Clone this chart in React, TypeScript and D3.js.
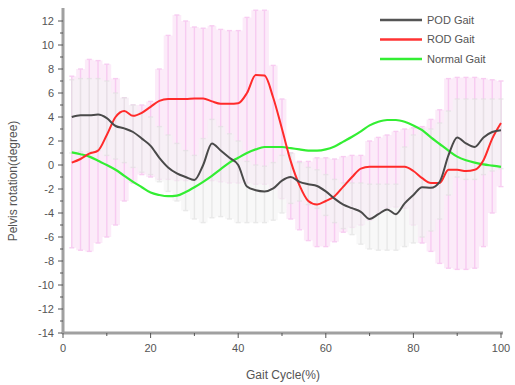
import React from 'react';
import * as d3 from 'd3';

// gait cycle sample points (%)
const cycle = d3.range(2, 101, 2);

const podMean = [4.0, 4.15, 4.15, 4.2, 3.9, 3.25, 3.05, 2.75, 2.2, 1.6, 0.6, -0.2, -0.7, -1.0, -1.25, 0.0, 1.8, 1.2, 0.6, 0.0,
  -1.8, -2.1, -2.2, -1.95, -1.3, -1.0, -1.4, -1.6, -1.75, -2.2, -2.8, -3.3, -3.6, -3.9, -4.5, -4.1, -3.7, -4.1, -3.2, -2.5,
  -1.85, -1.9, -1.4, 0.8, 2.3, 1.8, 1.5, 2.3, 2.75, 2.9];
const rodMean = [0.2, 0.5, 0.95, 1.2, 2.5, 4.0, 4.5, 4.1, 4.35, 4.85, 5.35, 5.5, 5.5, 5.5, 5.55, 5.55, 5.3, 5.1, 5.1, 5.15,
  6.0, 7.5, 7.45, 5.6, 3.0, 0.3, -1.7, -3.0, -3.3, -3.0, -2.6, -1.8, -1.0, -0.3, -0.15, -0.15, -0.15, -0.15, -0.15, -0.5,
  -1.1, -1.5, -1.5, -0.4, -0.4, -0.5, -0.4, 0.4, 2.2, 3.5];
const normalMean = [1.05, 0.9, 0.7, 0.35, 0.0, -0.4, -0.9, -1.4, -1.85, -2.3, -2.5, -2.6, -2.55, -2.25, -1.85, -1.4, -0.9, -0.35, 0.2, 0.6,
  1.0, 1.3, 1.5, 1.5, 1.5, 1.4, 1.3, 1.2, 1.2, 1.3, 1.55, 1.95, 2.35, 2.8, 3.3, 3.6, 3.75, 3.75, 3.6, 3.3,
  2.9, 2.3, 1.75, 1.2, 0.7, 0.4, 0.2, 0.05, -0.05, -0.15];

// error bar extents
const rodHigh = [7.4, 8.0, 8.8, 8.7, 8.4, 7.2, 5.6, 5.0, 5.0, 5.3, 8.0, 10.8, 12.5, 12.0, 11.5, 11.4, 11.6, 11.3, 11.2, 11.2,
  12.3, 12.9, 12.9, 8.3, 5.5, 1.0, 0.3, 0.3, 0.6, 0.6, 0.5, 0.7, 0.8, 0.8, 2.0, 2.3, 2.5, 2.8, 3.0, 3.1,
  3.2, 3.8, 4.6, 7.2, 7.3, 7.3, 7.3, 7.2, 7.1, 7.0];
const rodLow = [-6.9, -7.1, -7.2, -6.5, -6.0, -5.0, -3.0, -1.5, -0.8, -1.0, -1.2, -1.2, -1.3, -1.3, -1.3, -1.3, -1.3, -1.4, -1.5, -1.5,
  -1.5, -1.6, -1.6, -2.0, -2.8, -4.5, -5.4, -6.3, -6.8, -6.8, -6.4, -5.6, -5.2, -5.0, -4.6, -4.0, -3.6, -3.5, -3.6, -5.0,
  -6.5, -7.2, -8.2, -8.6, -8.7, -8.7, -8.6, -6.8, -4.0, -1.8];
const podHigh = [7.1, 7.2, 7.2, 7.2, 7.0, 6.0, 5.6, 5.0, 4.4, 4.0, 3.2, 2.5, 1.8, 1.2, 0.8, 2.2, 3.8, 3.2, 2.6, 2.0,
  0.3, 0.0, -0.1, 0.2, 0.8, 1.0, 0.2, -0.2, -0.4, -0.8, -1.2, -1.5, -1.5, -1.5, -1.6, -1.6, -1.6, -1.6, 1.5, 2.5,
  3.0, 3.0, 3.5, 4.5, 5.5, 5.5, 5.5, 5.5, 5.5, 5.5];
const podLow = [1.0, 1.1, 1.1, 1.2, 0.8, 0.5, 0.2, -0.2, -0.6, -0.8, -1.4, -2.2, -3.0, -3.8, -4.5, -4.8, -4.4, -4.3, -4.5, -4.8,
  -4.8, -4.8, -4.8, -4.6, -4.0, -3.2, -3.0, -3.3, -3.6, -4.2, -4.8, -5.3, -5.8, -6.6, -7.0, -7.1, -7.1, -7.1, -6.8, -6.5,
  -6.0, -5.5, -4.5, -2.5, -1.0, -1.2, -1.2, -0.8, -0.5, -0.3];

const xTicks = [0, 20, 40, 60, 80, 100];
const yTicks = [-14, -12, -10, -8, -6, -4, -2, 0, 2, 4, 6, 8, 10, 12];

const legend = [
  { label: 'POD Gait', color: '#555555' },
  { label: 'ROD Gait', color: '#ff3333' },
  { label: 'Normal Gait', color: '#33ee33' },
];

export default function App() {
  const x = d3.scaleLinear().domain([0, 100]).range([63, 501]);
  const y = d3.scaleLinear().domain([-14, 13]).range([333, 9]);

  const line = (vals: number[]) =>
    d3.line<number>().x((_, i) => x(cycle[i])).y(d => y(d)).curve(d3.curveMonotoneX)(vals) || '';
  const band = (lo: number[], hi: number[]) =>
    d3.area<number>().x((_, i) => x(cycle[i])).y0((_, i) => y(lo[i])).y1(d => y(d)).curve(d3.curveStep)(hi) || '';

  const bars = (lo: number[], hi: number[], color: string) =>
    cycle.map((c, i) => (
      <g key={i} stroke={color} strokeWidth={1.4}>
        <line x1={x(c)} x2={x(c)} y1={y(lo[i])} y2={y(hi[i])} />
        <line x1={x(c) - 2.5} x2={x(c) + 2.5} y1={y(hi[i])} y2={y(hi[i])} />
        <line x1={x(c) - 2.5} x2={x(c) + 2.5} y1={y(lo[i])} y2={y(lo[i])} />
      </g>
    ));

  const font = '"Liberation Sans", Arial, sans-serif';
  const axisColor = '#a0a0a0';
  const textColor = '#555';

  return (
    <svg width={515} height={385} style={{ position: 'absolute', left: 0, top: 0, background: '#fff' }} fontFamily={font}>
      {/* ROD band */}
      <path d={band(rodLow, rodHigh)} fill="#fbe6f8" opacity={0.8} />
      <g opacity={0.85}>{bars(rodLow, rodHigh, '#f7c6f0')}</g>
      {/* POD band, drawn over the ROD one */}
      <path d={band(podLow, podHigh)} fill="#f3f3f3" opacity={0.6} />
      <g opacity={0.6}>{bars(podLow, podHigh, '#dedede')}</g>

      <path d={line(normalMean)} fill="none" stroke="#33ee33" strokeWidth={2.2} />
      <path d={line(rodMean)} fill="none" stroke="#ff2b2b" strokeWidth={2} />
      <path d={line(podMean)} fill="none" stroke="#4a4a4a" strokeWidth={2} />

      {/* y axis */}
      <line x1={63} x2={63} y1={8} y2={334} stroke={axisColor} strokeWidth={3} />
      {d3.range(-13, 13, 2).map(v => (
        <line key={'ym' + v} x1={60} x2={63} y1={y(v)} y2={y(v)} stroke={textColor} strokeWidth={1} />
      ))}
      {yTicks.map(v => (
        <g key={'y' + v}>
          <line x1={58} x2={63} y1={y(v)} y2={y(v)} stroke={textColor} strokeWidth={1} />
          <text x={54} y={y(v)} dy="0.35em" textAnchor="end" fontSize={11} fill={textColor}>{v}</text>
        </g>
      ))}

      {/* x axis */}
      <line x1={62} x2={503} y1={333} y2={333} stroke={axisColor} strokeWidth={3} />
      {[10, 30, 50, 70, 90].map(v => (
        <line key={'xm' + v} x1={x(v)} x2={x(v)} y1={333} y2={336} stroke={textColor} strokeWidth={1} />
      ))}
      {xTicks.map(v => (
        <g key={'x' + v}>
          <line x1={x(v)} x2={x(v)} y1={333} y2={338} stroke={textColor} strokeWidth={1} />
          <text x={x(v)} y={352} textAnchor="middle" fontSize={11} fill={textColor}>{v}</text>
        </g>
      ))}

      <text x={283} y={379} textAnchor="middle" fontSize={12} fill={textColor}>Gait Cycle(%)</text>
      <text transform="translate(17,181) rotate(-90)" textAnchor="middle" fontSize={12} fill={textColor}>
        Pelvis rotation(degree)
      </text>

      {legend.map((d, i) => (
        <g key={d.label} transform={`translate(380,${20 + i * 19.5})`}>
          <line x1={0} x2={42} y1={0} y2={0} stroke={d.color} strokeWidth={2.5} />
          <text x={47} y={0} dy="0.35em" fontSize={11} fill={textColor}>{d.label}</text>
        </g>
      ))}
    </svg>
  );
}
